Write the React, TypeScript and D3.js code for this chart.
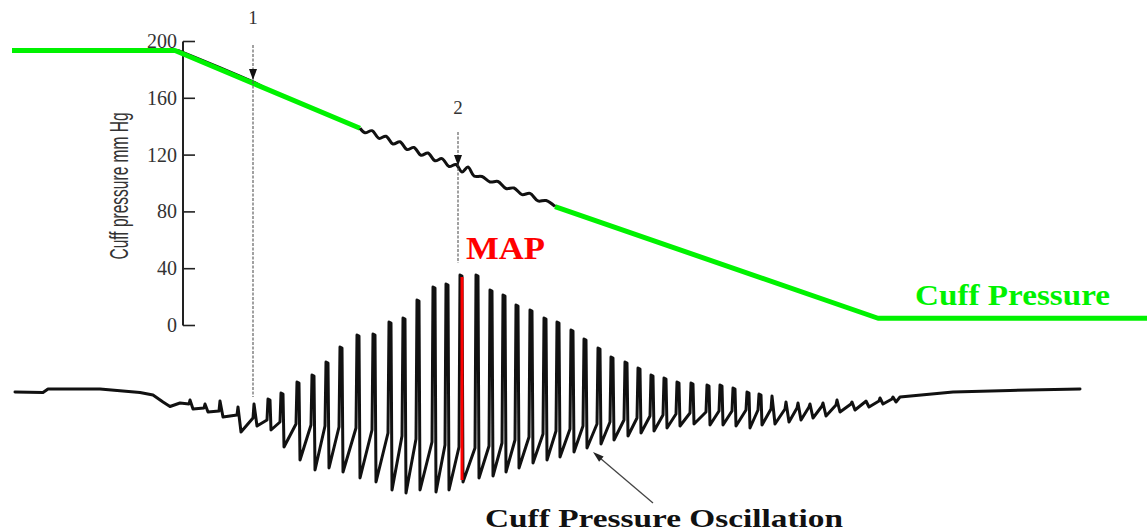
import React from 'react';
import * as d3 from 'd3';

const W = 1147;
const H = 531;

// Axis ticks (mmHg)
const yTicks = [0, 40, 80, 120, 160, 200];

// Cuff pressure (time s, mmHg) — green segments
const cuffGreenStart: [number, number][] = [[0, 193.7], [16.3, 193.7], [34.8, 138.9]];
const cuffGreenEnd: [number, number][] = [[54.3, 83.7], [86.6, 5.1], [113.5, 5.1]];
// Black recorded pressure trace visible under the green line
const cuffEarlyTrace: [number, number][] = [[16.6, 194.0], [18.8, 187.7], [20.8, 181.9], [22.8, 176.0], [24.3, 171.3], [25.6, 166.4]];
// Wavy section of the cuff pressure (time s, mmHg)
const cuffWavy: [number, number][] = [
  [34.8, 138.9], [35.3, 135.7], [36.0, 137.2], [36.7, 131.8], [37.4, 133.3], [38.1, 127.8], [38.8, 129.4],
  [39.5, 123.9], [40.2, 125.4], [40.9, 119.9], [41.6, 121.5], [42.3, 116.0], [43.0, 117.5], [43.7, 112.0],
  [44.4, 113.4], [45.0, 108.1], [45.6, 111.6], [46.2, 105.3], [47.0, 104.9], [47.8, 101.1], [48.6, 101.4],
  [49.4, 96.5], [50.2, 96.8], [51.0, 92.2], [51.8, 93.0], [52.6, 87.7], [53.4, 88.0], [54.3, 83.9],
];

// Oscillation trace (time s, amplitude units)
const oscLead: [number, number][] = [[0.3, 8], [3.1, 7.5], [3.6, 11], [8.8, 11], [12.8, 7.5], [14.1, 5], [15.1, -2], [15.8, -6.5], [16.8, -3]];
const oscTail: [number, number][] = [[88.8, 3], [94.1, 8], [99.8, 9.5], [106.8, 11]];
const beatTimes = [17.8, 19.3, 20.8, 22.6, 24.2, 25.6, 26.9, 28.5, 30.0, 31.4, 32.8, 34.5, 36.1, 37.7, 39.1, 40.5, 42.1, 43.4, 44.8, 46.4,
  47.8, 49.1, 50.4, 51.8, 53.2, 54.5, 55.9, 57.2, 58.6, 59.9, 61.3, 62.6, 63.9, 65.2, 66.5, 67.9, 69.5, 70.8, 72.1, 73.5,
  74.7, 76.0, 77.4, 78.6, 79.8, 81.1, 82.5, 84.0, 85.4, 86.8, 88.1];
const beatBase = [-4, -8, -11, -15, -18, -20, -22, -24, -25, -26, -27, -28, -30, -33, -36, -39, -42, -45, -47, -48,
  -46, -43, -40, -37, -34, -31, -29, -26, -24, -22, -20, -18, -16, -15, -14, -13, -12, -11, -11, -10,
  -10, -9, -9, -8, -7, -6, -5, -4, -2, -1, 1];
const beatPeak = [0, -4, -1, -7, -4, 1, 7, 18, 25, 38, 53, 65, 66, 78, 82, 100, 113, 116, 125, 125,
  110, 105, 95, 90, 82, 78, 70, 61, 52, 43, 38, 32, 25, 22, 18, 17, 15, 15, 12, 8,
  6, 4, -2, -3, -4, -3, 0, -2, -1, 2, 3];
const beatTrough = [-9, -12, -17, -32, -26, -30, -47, -60, -70, -68, -72, -78, -82, -90, -93, -90, -92, -90, -82, -78,
  -76, -72, -68, -63, -60, -57, -52, -48, -44, -40, -36, -33, -31, -28, -26, -24, -25, -25, -26, -28,
  -25, -24, -22, -20, -18, -16, -12, -10, -7, -4, -2];

// Markers
const mapTime = 45.0;
const mapRange: [number, number] = [125, -80];
const marker1 = { t: 24.1, top: 197.5, tip: 172.9, bottomOsc: 3, label: '1' };
const marker2 = { t: 44.6, top: 136.3, tip: 112.3, bottomOsc: 137, label: '2' };
const oscArrow = { tail: [64.1, -103] as [number, number], tip: [58.1, -52] as [number, number] };

const GREEN = '#00f200';
const SERIF = '"Liberation Serif", "Times New Roman", serif';
const SANS = '"Liberation Sans", Arial, sans-serif';

export default function App() {
  const x = d3.scaleLinear().domain([0, 113.5]).range([12, 1147]);
  const y = d3.scaleLinear().domain([0, 200]).range([325.5, 41.5]);
  const o = d3.scaleLinear().domain([0, 100]).range([400, 300]);

  const pLine = d3.line<[number, number]>().x(d => x(d[0])).y(d => y(d[1]));
  const wavyLine = d3.line<[number, number]>().x(d => x(d[0])).y(d => y(d[1])).curve(d3.curveCatmullRom);
  const oLine = d3.line<[number, number]>().x(d => x(d[0])).y(d => o(d[1]));

  const oscPts: [number, number][] = [...oscLead];
  beatTimes.forEach((t, i) => {
    const big = beatPeak[i] - beatTrough[i] > 30;
    oscPts.push([t - 0.1, beatBase[i]]);
    oscPts.push([t, beatPeak[i]]);
    if (big) oscPts.push([t + 0.2, beatPeak[i] - 1]);
    oscPts.push([t + 0.3, beatTrough[i]]);
  });
  oscPts.push(...oscTail);

  const axisX = 183;

  const downArrow = (px: number, py: number) => `M${px},${py} L${px - 4},${py - 11} L${px + 4},${py - 11} Z`;

  const markers = [marker1, marker2].map((m, i) => {
    const mx = x(m.t);
    const top = y(m.top);
    const tip = y(m.tip);
    const bottom = o(m.bottomOsc);
    return (
      <g key={i}>
        <line x1={mx} x2={mx} y1={top} y2={bottom} stroke="#555" strokeWidth={1.1} strokeDasharray="3,1.5" />
        <path d={downArrow(mx, tip)} fill="#111" />
        <text x={mx} y={top - (i === 0 ? 21 : 18)} textAnchor="middle" fontFamily={SERIF} fontSize={19} fill="#333">{m.label}</text>
      </g>
    );
  });

  // oscillation arrow head
  const tx = x(oscArrow.tip[0]), ty = o(oscArrow.tip[1]);
  const sx = x(oscArrow.tail[0]), sy = o(oscArrow.tail[1]);
  const len = Math.hypot(tx - sx, ty - sy);
  const ux = (tx - sx) / len, uy = (ty - sy) / len;
  const nx = -uy, ny = ux;
  const head = `M${tx},${ty} L${tx - ux * 11 + nx * 3.5},${ty - uy * 11 + ny * 3.5} L${tx - ux * 11 - nx * 3.5},${ty - uy * 11 - ny * 3.5} Z`;

  return (
    <svg width={W} height={H} viewBox={`0 0 ${W} ${H}`} style={{ position: 'absolute', left: 0, top: 0, background: '#fff' }}>
      <rect x={0} y={0} width={W} height={H} fill="#fff" />
      {/* Y axis */}
      <g>
        <line x1={axisX} x2={axisX} y1={y(0)} y2={y(200)} stroke="#222" strokeWidth={2} />
        {yTicks.map(t => (
          <g key={t}>
            <line x1={axisX} x2={axisX + 12} y1={y(t)} y2={y(t)} stroke="#222" strokeWidth={1.6} />
            <text x={axisX - 6} y={y(t) + 6.5} textAnchor="end" fontFamily={SERIF} fontSize={20} fill="#333">{t}</text>
          </g>
        ))}
        <text
          transform={`translate(128, 186) rotate(-90)`}
          textAnchor="middle"
          fontFamily={SANS}
          fontSize={25}
          fill="#333"
          textLength={147}
          lengthAdjust="spacingAndGlyphs"
        >Cuff pressure mm Hg</text>
      </g>

      {/* recorded pressure trace */}
      <path d={pLine(cuffEarlyTrace) || ''} fill="none" stroke="#111" strokeWidth={2} />
      <path d={pLine(cuffGreenStart) || ''} fill="none" stroke={GREEN} strokeWidth={5} strokeLinejoin="round" />
      <path d={pLine(cuffGreenEnd) || ''} fill="none" stroke={GREEN} strokeWidth={5} strokeLinejoin="round" />
      <path d={wavyLine(cuffWavy) || ''} fill="none" stroke="#111" strokeWidth={3} strokeLinejoin="round" />

      {markers}

      {/* oscillation */}
      <path d={oLine(oscPts) || ''} fill="none" stroke="#111" strokeWidth={3} strokeLinejoin="round" strokeLinecap="round" />
      <line x1={x(mapTime)} x2={x(mapTime)} y1={o(mapRange[0]) + 2} y2={o(mapRange[1])} stroke="#ff0000" strokeWidth={3} />

      {/* labels */}
      <text x={466} y={259} fontFamily={SERIF} fontWeight="bold" fontSize={32} fill="#ff0000" textLength={79} lengthAdjust="spacingAndGlyphs">MAP</text>
      <text x={915} y={305} fontFamily={SERIF} fontWeight="bold" fontSize={30} fill={GREEN} textLength={195} lengthAdjust="spacingAndGlyphs">Cuff Pressure</text>
      <text x={485} y={527} fontFamily={SERIF} fontWeight="bold" fontSize={25} fill="#111" textLength={358} lengthAdjust="spacingAndGlyphs">Cuff Pressure Oscillation</text>

      <line x1={sx} y1={sy} x2={tx - ux * 8} y2={ty - uy * 8} stroke="#444" strokeWidth={1.3} />
      <path d={head} fill="#222" />
    </svg>
  );
}
